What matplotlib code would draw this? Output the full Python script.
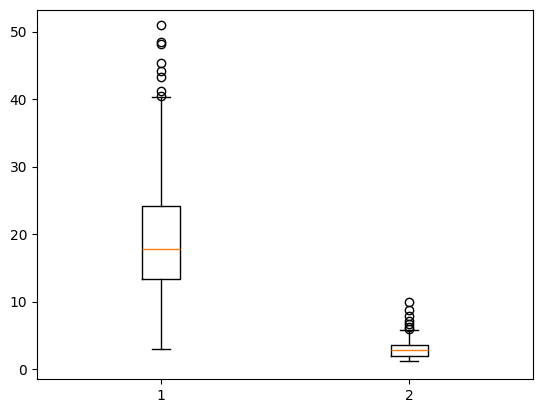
import matplotlib
matplotlib.use("Agg")
import matplotlib.pyplot as plt

# summary stats
labels = ["1", "2"]
medians = [17.8, 2.8]
q1s = [13.35, 2.0]
q3s = [24.2, 3.5]
whis_lo = [3.0, 1.2]
whis_hi = [40.3, 5.8]
fliers_1 = [40.5, 41.2, 43.3, 44.2, 45.4, 48.1, 48.4, 51.0]
fliers_2 = [6.0, 6.2, 6.6, 7.1, 7.8, 8.8, 10.0]
fliers = [fliers_1, fliers_2]

stats = []
for i in range(len(labels)):
    stats.append({
        "label": labels[i],
        "med": medians[i],
        "q1": q1s[i],
        "q3": q3s[i],
        "whislo": whis_lo[i],
        "whishi": whis_hi[i],
        "fliers": fliers[i],
    })

fig = plt.figure(figsize=(5.43, 4.13), dpi=100)
ax = fig.add_axes([0.068, 0.082, 0.914, 0.894])
ax.bxp(stats)
ax.set_ylim(-1.5, 53.2)

fig.savefig("out.png", dpi=100)
